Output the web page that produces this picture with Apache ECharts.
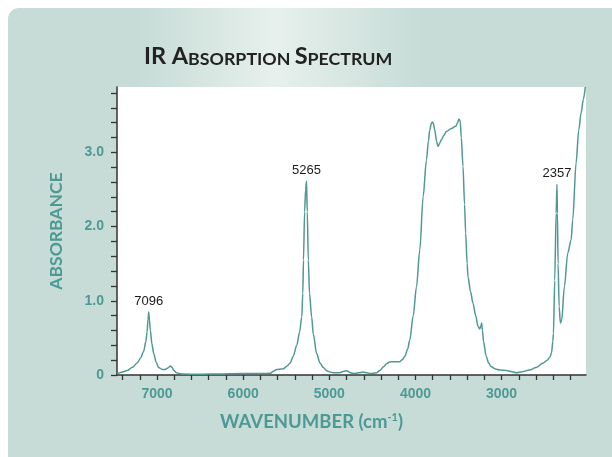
<!DOCTYPE html>
<html>
<head>
<meta charset="utf-8">
<script src="https://cdn.jsdelivr.net/npm/echarts@6/dist/echarts.min.js"></script>
<style>
html,body{margin:0;padding:0;background:#fff;}
#chart{width:612px;height:457px;}
</style>
</head>
<body>
<div id="chart"></div>
<script>
// Spectrum data (wavenumber cm-1, absorbance)
const wavenumbers = [7465,7400,7347,7290,7232,7190,7155,7130,7116,7105,7097,7088,7078,7060,7039,7010,6981,6940,6904,6875,6846,6825,6807,6780,6750,6700,6500,6300,6000,5800,5687,5650,5610,5560,5533,5490,5456,5420,5378,5345,5320,5308,5300,5287,5275,5265,5256,5244,5230,5205,5186,5147,5108,5070,5031,4993,4954,4880,4830,4799,4760,4722,4660,4607,4560,4529,4452,4413,4370,4336,4300,4259,4182,4150,4124,4090,4066,4027,3988,3950,3911,3872,3850,3834,3815,3803,3790,3776,3755,3738,3720,3699,3670,3641,3583,3533,3510,3495,3480,3468,3448,3430,3417,3400,3390,3360,3333,3300,3275,3255,3240,3232,3222,3210,3178,3150,3120,3070,3023,2927,2880,2830,2760,2676,2600,2522,2470,2440,2420,2405,2398,2383,2367,2357,2352,2344,2332,2317,2302,2271,2232,2193,2174,2135,2104,2077,2051,2028];
const absorbance = [0.015,0.04,0.06,0.10,0.16,0.23,0.32,0.45,0.58,0.75,0.85,0.74,0.60,0.42,0.29,0.17,0.10,0.075,0.075,0.095,0.12,0.10,0.065,0.035,0.02,0.012,0.01,0.015,0.02,0.02,0.022,0.05,0.075,0.08,0.085,0.12,0.16,0.25,0.40,0.58,0.78,1.1,1.55,2.2,2.5,2.61,2.2,1.55,1.1,0.78,0.55,0.29,0.16,0.10,0.058,0.04,0.03,0.03,0.05,0.058,0.035,0.02,0.03,0.04,0.03,0.02,0.03,0.06,0.11,0.15,0.175,0.18,0.18,0.21,0.25,0.35,0.47,0.79,1.19,1.68,2.40,2.90,3.15,3.30,3.39,3.41,3.38,3.30,3.15,3.08,3.12,3.17,3.23,3.28,3.32,3.35,3.40,3.45,3.42,3.2,2.81,2.3,1.91,1.5,1.32,1.12,0.97,0.80,0.66,0.62,0.66,0.70,0.60,0.45,0.25,0.16,0.11,0.08,0.067,0.058,0.045,0.031,0.045,0.067,0.10,0.157,0.20,0.24,0.30,0.45,0.56,1.28,2.18,2.57,2.18,1.5,0.92,0.70,0.74,1.19,1.64,1.82,2.09,2.86,3.30,3.53,3.71,3.88];

// Peak annotations
const peakLabels = ['7096','5265','2357'];
const peakWavenumbers = [7096,5265,2357];
const peakAbsorbance = [0.85,2.61,2.57];

// Axis ticks and labels
const xTickValues = [2200,2400,2600,2800,3000,3200,3400,3600,3800,4000,4200,4400,4600,4800,5000,5200,5400,5600,5800,6000,6200,6400,6600,6800,7000,7200,7400];
const xLabelValues = [3000,4000,5000,6000,7000];
const yTickValues = [0,0.2,0.4,0.6,0.8,1.0,1.2,1.4,1.6,1.8,2.0,2.2,2.4,2.6,2.8,3.0,3.2,3.4,3.6,3.8];
const yLabelValues = [0,1,2,3];

const teal = '#4d9994';
const lineColor = '#4f9893';
const axisDark = '#333333';
const labelFont = '"Liberation Sans Narrow", "Arial Narrow", "Liberation Sans", sans-serif';
const nameFont = 'Lato, "Open Sans", sans-serif';

const seriesData = wavenumbers.map((w, i) => [w, absorbance[i]]);

const chart = echarts.init(document.getElementById('chart'), null, {renderer: 'canvas'});
chart.setOption({
  animation: false,
  backgroundColor: 'transparent',
  graphic: [
    {type: 'rect', z: -20, shape: {x: 8, y: 8, width: 604, height: 449, r: [11, 0, 0, 0]}, style: {fill: '#c7dcd7'}},
    {type: 'rect', z: -19, shape: {x: 20, y: 8, width: 592, height: 82},
      style: {fill: new echarts.graphic.LinearGradient(0, 0, 1, 0, [
        {offset: 0, color: 'rgba(231,240,236,0)'},
        {offset: 0.2, color: 'rgba(231,240,236,0)'},
        {offset: 0.43, color: 'rgba(231,240,236,1)'},
        {offset: 0.68, color: 'rgba(231,240,236,0)'},
        {offset: 1, color: 'rgba(231,240,236,0)'}
      ])}},
    {type: 'text', z: 10, left: 144, top: 44,
      style: {
        text: '{b|IR A}{s|BSORPTION }{b|S}{s|PECTRUM}',
        rich: {
          b: {fontSize: 23.5, fontWeight: 'bold', fontFamily: nameFont, fill: '#222', verticalAlign: 'bottom', lineHeight: 26},
          s: {fontSize: 17.8, fontWeight: 'bold', fontFamily: nameFont, fill: '#222', verticalAlign: 'bottom', lineHeight: 26}
        }
      }},
    {type: 'text', z: 10, left: 220, top: 410,
      style: {
        text: '{n|WAVENUMBER (cm}{s|-1}{n|)}',
        rich: {
          n: {fontSize: 18.5, fontWeight: 'bold', fontFamily: nameFont, fill: teal, lineHeight: 22, verticalAlign: 'bottom'},
          s: {fontSize: 11, fontWeight: 'bold', fontFamily: nameFont, fill: teal, lineHeight: 22, verticalAlign: 'top', padding: [2, 0, 0, 0]}
        }
      }}
  ],
  grid: {left: 117, right: 26, top: 87, bottom: 82, show: true, backgroundColor: '#ffffff', borderWidth: 0},
  xAxis: {
    type: 'value', inverse: true, min: 2020, max: 7465,
    axisLine: {show: true, onZero: false, lineStyle: {color: axisDark, width: 1.5}},
    axisTick: {show: true, length: 5, customValues: xTickValues, lineStyle: {color: axisDark, width: 1.3}},
    axisLabel: {customValues: xLabelValues, margin: 12, color: teal, fontWeight: 'bold', fontSize: 14, fontFamily: labelFont,
      formatter: v => String(Math.round(v))},
    splitLine: {show: false}
  },
  yAxis: {
    type: 'value', min: 0, max: 3.88,
    name: 'ABSORBANCE', nameLocation: 'middle', nameGap: 52, nameRotate: 90,
    nameTextStyle: {color: teal, fontSize: 17.5, fontWeight: 'bold', fontFamily: nameFont},
    axisLine: {show: true, lineStyle: {color: axisDark, width: 1.5}},
    axisTick: {show: true, length: 6, customValues: yTickValues, lineStyle: {color: axisDark, width: 1.3}},
    axisLabel: {customValues: yLabelValues, margin: 13, color: teal, fontWeight: 'bold', fontSize: 14, fontFamily: labelFont,
      formatter: v => v === 0 ? '0' : v.toFixed(1)},
    splitLine: {show: false}
  },
  series: [{
    type: 'line',
    data: seriesData,
    showSymbol: false,
    symbol: 'none',
    smooth: 0.3,
    smoothMonotone: 'x',
    lineStyle: {color: lineColor, width: 1.5},
    clip: true,
    markPoint: {
      symbol: 'circle', symbolSize: 0,
      label: {show: true, position: 'top', distance: 4, color: '#1a1a1a', fontSize: 13, fontFamily: '"Liberation Sans", Arial, sans-serif',
        formatter: p => p.name},
      data: peakLabels.map((t, i) => ({name: t, coord: [peakWavenumbers[i], peakAbsorbance[i]]}))
    }
  }]
});
</script>
</body>
</html>
